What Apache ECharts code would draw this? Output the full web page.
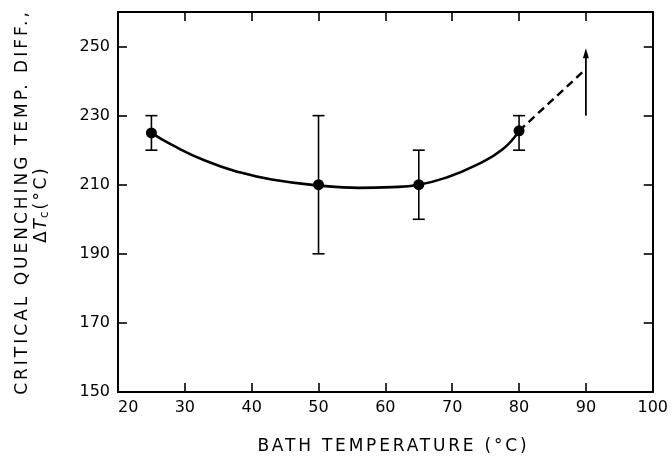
<!DOCTYPE html>
<html>
<head>
<meta charset="utf-8">
<script src="https://cdn.jsdelivr.net/npm/echarts@6/dist/echarts.min.js"></script>
<style>
html,body{margin:0;padding:0;background:#fff;}
#chart{width:671px;height:460px;}
</style>
</head>
<body>
<div id="chart"></div>
<script>
// ---- data ----
const xTicks = [20, 30, 40, 50, 60, 70, 80, 90, 100];
const yTicks = [150, 170, 190, 210, 230, 250];
const pointX = [25, 50, 65, 80];
const pointY = [225, 210, 210, 225.6];
const errLow = [220, 190, 200, 220];
const errHigh = [230, 230, 220, 230];
const curveX = [25, 28, 33, 38, 43, 50, 56, 61, 65, 69, 73.5, 77.5, 80];
const curveY = [225, 221.6, 217, 213.7, 211.5, 209.8, 209.1, 209.3, 210, 212, 215.6, 220.2, 225.6];
const dashX = [80, 90];
const dashY = [225.6, 243.5];
const arrowX = [90];
const arrowFrom = [230];
const arrowTo = [249.5];
const xTitle = 'BATH TEMPERATURE (°C)';
const yTitle = 'CRITICAL QUENCHING TEMP. DIFF.,';
const unitText = '(°C)';

// wide letter spacing for the axis titles, as in the reference
const spaced = {};
spaced[xTitle] = '2.8px';
spaced[yTitle] = '3px';
spaced[unitText] = '2.5px';
const origFill = CanvasRenderingContext2D.prototype.fillText;
CanvasRenderingContext2D.prototype.fillText = function (t, x, y, m) {
  if ('letterSpacing' in this) this.letterSpacing = spaced[t] || '0px';
  return m === undefined ? origFill.call(this, t, x, y) : origFill.call(this, t, x, y, m);
};

const FONT = 'DejaVu Sans';
const zip = (a, b) => a.map((v, i) => [v, b[i]]);

const chart = echarts.init(document.getElementById('chart'), null, {renderer: 'canvas'});

const axisLine = {show: true, lineStyle: {color: '#000', width: 2}};
const tick = {show: true, inside: true, length: 9, lineStyle: {color: '#000', width: 1.6}};

const option = {
  backgroundColor: '#fff',
  animation: false,
  grid: {left: 118, right: 13, top: 12, bottom: 65},
  xAxis: [{
    type: 'value', position: 'bottom', min: 20, max: 100, interval: 10,
    axisLine: axisLine,
    axisTick: Object.assign({}, tick, {customValues: xTicks}),
    axisLabel: {customValues: xTicks, color: '#000', fontFamily: FONT, fontSize: 16, margin: 8, alignMinLabel: 'left'},
    splitLine: {show: false},
    name: xTitle, nameLocation: 'middle', nameGap: 46,
    nameTextStyle: {color: '#000', fontFamily: FONT, fontSize: 17, padding: [0, 0, 0, 16]}
  }, {
    type: 'value', position: 'top', min: 20, max: 100, interval: 10,
    axisLine: axisLine,
    axisTick: Object.assign({}, tick, {customValues: xTicks}),
    axisLabel: {show: false}, splitLine: {show: false}
  }],
  yAxis: [{
    type: 'value', position: 'left', min: 150, max: 260,
    axisLine: axisLine,
    axisTick: Object.assign({}, tick, {customValues: yTicks}),
    axisLabel: {customValues: yTicks, color: '#000', fontFamily: FONT, fontSize: 16, margin: 8},
    splitLine: {show: false},
    name: yTitle, nameLocation: 'middle', nameRotate: 90, nameGap: 87,
    nameTextStyle: {color: '#000', fontFamily: FONT, fontSize: 17, lineHeight: 17}
  }, {
    type: 'value', position: 'right', min: 150, max: 260,
    axisLine: axisLine,
    axisTick: Object.assign({}, tick, {customValues: yTicks}),
    axisLabel: {show: false}, splitLine: {show: false}
  }],
  graphic: [{
    type: 'text', x: 42, y: 207, rotation: Math.PI / 2,
    style: {
      text: '{d|Δ}{t|T}{s|c}{g| }{u|' + unitText + '}',
      align: 'center', verticalAlign: 'middle',
      rich: {
        d: {fontFamily: FONT, fontSize: 17, lineHeight: 17, fill: '#000'},
        g: {fontFamily: FONT, fontSize: 17, lineHeight: 17, fill: '#000', width: 7},
        u: {fontFamily: FONT, fontSize: 17, lineHeight: 17, fill: '#000'},
        t: {fontFamily: FONT, fontSize: 17, fontStyle: 'italic', lineHeight: 17, fill: '#000', padding: [0, 1, 0, 2]},
        s: {fontFamily: FONT, fontSize: 12, lineHeight: 17, verticalAlign: 'bottom', fill: '#000'}
      }
    }
  }],
  series: [{
    type: 'line', name: 'fit', data: zip(curveX, curveY), smooth: 0.5,
    showSymbol: false, symbol: 'none',
    lineStyle: {color: '#000', width: 2.6}, z: 3
  }, {
    type: 'line', name: 'extrapolation', data: zip(dashX, dashY),
    showSymbol: false, symbol: 'none',
    lineStyle: {color: '#000', width: 2.4, type: [8, 5]}, z: 3
  }, {
    type: 'custom', name: 'error',
    data: pointX.map((x, i) => [x, errLow[i], errHigh[i]]),
    renderItem: function (params, api) {
      const x = api.value(0);
      const lo = api.coord([x, api.value(1)]);
      const hi = api.coord([x, api.value(2)]);
      const w = 6;
      const st = {stroke: '#000', lineWidth: 1.6};
      return {type: 'group', children: [
        {type: 'line', shape: {x1: lo[0], y1: lo[1], x2: hi[0], y2: hi[1]}, style: st},
        {type: 'line', shape: {x1: lo[0] - w, y1: lo[1], x2: lo[0] + w, y2: lo[1]}, style: st},
        {type: 'line', shape: {x1: hi[0] - w, y1: hi[1], x2: hi[0] + w, y2: hi[1]}, style: st}
      ]};
    }, z: 2
  }, {
    type: 'custom', name: 'arrow',
    data: arrowX.map((x, i) => [x, arrowFrom[i], arrowTo[i]]),
    renderItem: function (params, api) {
      const x = api.value(0);
      const a = api.coord([x, api.value(1)]);
      const b = api.coord([x, api.value(2)]);
      const hl = 10, hw = 3;
      return {type: 'group', children: [
        {type: 'line', shape: {x1: a[0], y1: a[1], x2: b[0], y2: b[1] + hl - 1}, style: {stroke: '#000', lineWidth: 1.8}},
        {type: 'polygon', shape: {points: [[b[0], b[1]], [b[0] - hw, b[1] + hl], [b[0] + hw, b[1] + hl]]}, style: {fill: '#000'}}
      ]};
    }, z: 3
  }, {
    type: 'scatter', name: 'data', data: zip(pointX, pointY),
    symbol: 'circle', symbolSize: 11,
    itemStyle: {color: '#000', opacity: 1}, z: 5
  }]
};
chart.setOption(option);
</script>
</body>
</html>
